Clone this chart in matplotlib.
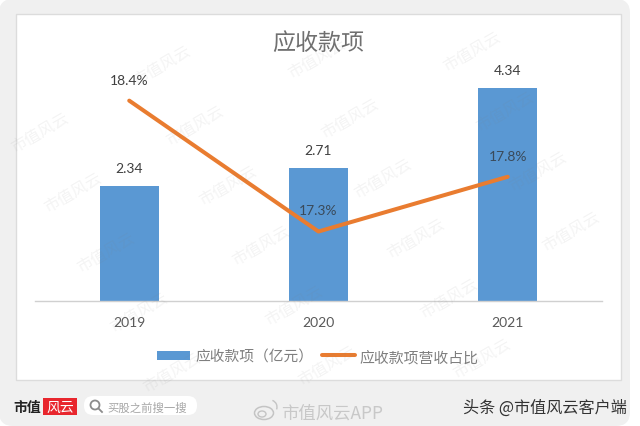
import matplotlib
matplotlib.use('Agg')
import matplotlib.pyplot as plt
from matplotlib.patches import FancyBboxPatch, Rectangle, Circle, Ellipse, Arc

plt.rcParams['font.family'] = ['Noto Sans CJK SC', 'DejaVu Sans']

#================================================================================
#   Data
#================================================================================
years = ['2019', '2020', '2021']
receivables = [2.34, 2.71, 4.34]
ratio = [18.4, 17.3, 17.76]
ratio_labels = ['18.4%', '17.3%', '17.8%']

W = 640
H = 427
BLUE = '#5a98d3'
ORANGE = '#e97c30'
GREY = '#595959'
LABEL = '#404040'
NUM_FONT = ['Lato', 'DejaVu Sans']

fig = plt.figure(figsize=(W / 100, H / 100), dpi=100, facecolor='white')

#================================================================================
#   Page background, in pixel coordinates
#================================================================================
bg = fig.add_axes([0, 0, 1, 1], zorder=0)
bg.set_xlim(0, W)
bg.set_ylim(H, 0)
bg.axis('off')
bg.add_patch(FancyBboxPatch((-1, 0), 631, 427, boxstyle='round,pad=0,rounding_size=14',
                            fc='#f0f0f0', ec='none'))
bg.add_patch(Rectangle((16, 15), 604.5, 366, fc='white', ec='#dcdcdc', lw=1))

#================================================================================
#   Main chart
#================================================================================
ax = fig.add_axes([34.6 / W, 1 - 301.5 / H, 567.75 / W, 241.5 / H], zorder=1)
ax.patch.set_alpha(0)
ax.bar(years, receivables, width=0.312, color=BLUE, zorder=2)
ax.set_xlim(-0.5, 2.5)
ax.set_ylim(0, 241.5 / 48.9)
ax.set_yticks([])
for side in ['top', 'left', 'right']:
    ax.spines[side].set_visible(False)
ax.spines['bottom'].set_color('#d0d0d0')
ax.spines['bottom'].set_linewidth(1.0)
ax.tick_params(axis='x', length=0, pad=11, labelsize=10, labelcolor=GREY)
for lab in ax.get_xticklabels():
    lab.set_family(NUM_FONT)
for i, v in enumerate(receivables):
    ax.annotate('%.2f' % v, (i, v), xytext=(0, 18), textcoords='offset pixels',
                ha='center', va='center', fontsize=10, color=LABEL, family=NUM_FONT)

ax2 = ax.twinx()
ax2.patch.set_alpha(0)
ax2.plot(range(3), ratio, color=ORANGE, lw=2.9, solid_capstyle='round', zorder=3)
ax2.set_ylim(16.72, 18.75)
ax2.set_yticks([])
for side in ['top', 'left', 'right', 'bottom']:
    ax2.spines[side].set_visible(False)
for i, v in enumerate(ratio):
    ax2.annotate(ratio_labels[i], (i, v), xytext=(0, 21), textcoords='offset pixels',
                 ha='center', va='center', fontsize=10, color='#3a4a5a' if i else LABEL,
                 family=NUM_FONT)

#================================================================================
#   Title, legend, footer
#================================================================================
top = fig.add_axes([0, 0, 1, 1], zorder=2)
top.set_xlim(0, W)
top.set_ylim(H, 0)
top.axis('off')
top.text(318.5, 43, '应收款项', ha='center', va='center', fontsize=16.6, color='#707070')

top.add_patch(Rectangle((157, 352), 33, 9, fc=BLUE, ec='none'))
top.text(195, 358, '应收款项（亿元）', ha='left', va='center', fontsize=10.6, color='#7f7f7f')
top.plot([322, 355], [356, 356], color=ORANGE, lw=2.9, solid_capstyle='round')
top.text(359.5, 358, '应收款项营收占比', ha='left', va='center', fontsize=10.7, color='#7f7f7f')

top.text(13, 408, '市值', ha='left', va='center', fontsize=10, color='#222222', fontweight='bold')
top.add_patch(Rectangle((43, 399), 34, 17, fc='#e8262d', ec='none'))
top.text(60, 408, '风云', ha='center', va='center', fontsize=10, color='white')
top.add_patch(FancyBboxPatch((84, 397), 113, 19, boxstyle='round,pad=0,rounding_size=9',
                             fc='white', ec='none'))
top.add_patch(Circle((95, 406), 4.5, fc='none', ec='#8c8c8c', lw=1.3))
top.plot([98.5, 102], [409.5, 413], color='#8c8c8c', lw=1.3)
top.text(107, 408, '买股之前搜一搜', ha='left', va='center', fontsize=8.2, color='#a6a6a6')

# weibo mark
top.add_patch(Ellipse((264, 414), 19, 13, fc='none', ec='#c4c4c4', lw=1.1))
top.add_patch(Ellipse((262, 415), 8, 6, fc='none', ec='#c4c4c4', lw=1.0))
top.add_patch(Arc((270, 408), 14, 14, theta1=-70, theta2=20, ec='#c4c4c4', lw=1.0))
top.text(281, 414, '市值风云APP', ha='left', va='center', fontsize=12.5, color='#c8c8c8')
top.text(463, 408.5, '头条 @市值风云客户端', ha='left', va='center', fontsize=11.6, color='#333333')

#================================================================================
#   Faint watermark, a slanted lattice over the whole page
#================================================================================
for row in range(-1, 5):
    for col in range(-1, 5):
        x = 40 + 155 * col + 33 * row
        y = 133 - 7 * col + 60 * row
        if 40 <= x <= 600 and 28 <= y <= 400:
            top.text(x, y, '市值风云', ha='center', va='center', fontsize=11.5, rotation=30,
                     color='#808080', alpha=0.09)

fig.savefig('out.png', dpi=100)
